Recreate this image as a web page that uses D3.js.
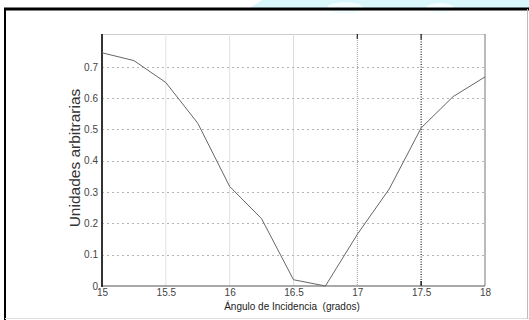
<!DOCTYPE html>
<html><head><meta charset="utf-8">
<script src="https://cdn.jsdelivr.net/npm/d3@7"></script>
<style>body{margin:0;background:#fff}svg{display:block}</style>
</head><body>
<script>
const angles = [15, 15.25, 15.5, 15.75, 16, 16.25, 16.5, 16.75, 17, 17.25, 17.5, 17.75, 18];
const values = [0.745, 0.72, 0.65, 0.52, 0.318, 0.215, 0.02, 0.0, 0.165, 0.31, 0.505, 0.605, 0.668];
const xTicks = [15, 15.5, 16, 16.5, 17, 17.5, 18];
const xTickLabels = ["15", "15.5", "16", "16.5", "17", "17.5", "18"];
const yTicks = [0, 0.1, 0.2, 0.3, 0.4, 0.5, 0.6, 0.7];
const yTickLabels = ["0", "0.1", "0.2", "0.3", "0.4", "0.5", "0.6", "0.7"];
const xTitle = "Ángulo de Incidencia  (grados)";
const yTitle = "Unidades arbitrarias";

const W = 529, H = 320;
const svg = d3.select("body").append("svg").attr("width", W).attr("height", H);

// decorative cyan band above frame
svg.append("path")
  .attr("d", "M250,8 L262,0 L529,0 L529,8 Z")
  .attr("fill", "#d9f7fa");
svg.append("ellipse").attr("cx", 345).attr("cy", 8).attr("rx", 18).attr("ry", 6).attr("fill", "#f3fdfe");
svg.append("ellipse").attr("cx", 440).attr("cy", 8).attr("rx", 14).attr("ry", 5).attr("fill", "#f3fdfe");

// frame
svg.append("line").attr("x1", 4).attr("x2", 529).attr("y1", 9).attr("y2", 9).attr("stroke", "#000").attr("stroke-width", 3);
svg.append("line").attr("x1", 5).attr("x2", 5).attr("y1", 8).attr("y2", 320).attr("stroke", "#000").attr("stroke-width", 2);
svg.append("line").attr("x1", 5).attr("x2", 529).attr("y1", 318.5).attr("y2", 318.5).attr("stroke", "#ddd").attr("stroke-width", 1);
svg.append("line").attr("x1", 527.5).attr("x2", 527.5).attr("y1", 9).attr("y2", 319).attr("stroke", "#bbb").attr("stroke-width", 1);

const x = d3.scaleLinear().domain([15, 18]).range([102, 485]);
const y = d3.scaleLinear().domain([0, 0.805]).range([286, 34]);

// plot box top/right
svg.append("line").attr("x1", x(15)).attr("x2", x(18)).attr("y1", 34.5).attr("y2", 34.5).attr("stroke", "#ccc");
svg.append("line").attr("x1", x(18)).attr("x2", x(18)).attr("y1", 34).attr("y2", 286).attr("stroke", "#777");

// vertical grid
const vStyle = {15.5: ["#e2e2e2", null, 1], 16: ["#e2e2e2", null, 1], 16.5: ["#dcdcdc", null, 1],
                17: ["#999", "1,1", 1], 17.5: ["#333", "1,1.5", 1.3]};
xTicks.filter(t => t > 15 && t < 18).forEach(t => {
  const s = vStyle[t];
  const l = svg.append("line").attr("x1", x(t)).attr("x2", x(t)).attr("y1", 34).attr("y2", 286)
    .attr("stroke", s[0]).attr("stroke-width", s[2]);
  if (s[1]) l.attr("stroke-dasharray", s[1]);
});
// top tick marks
[17, 17.5].forEach(t => {
  svg.append("line").attr("x1", x(t)).attr("x2", x(t)).attr("y1", 34).attr("y2", 39).attr("stroke", "#333").attr("stroke-width", 1.3);
});
svg.append("line").attr("x1", x(17.5)).attr("x2", x(17.5)).attr("y1", 281).attr("y2", 286).attr("stroke", "#222").attr("stroke-width", 1.5);

// horizontal grid
yTicks.filter(t => t > 0).forEach(t => {
  svg.append("line").attr("x1", x(15)).attr("x2", x(18)).attr("y1", Math.round(y(t)) + 0.5).attr("y2", Math.round(y(t)) + 0.5)
    .attr("stroke", "#b4b4b4").attr("stroke-dasharray", "2,3");
});

// axes lines
svg.append("line").attr("x1", x(15)).attr("x2", x(18)).attr("y1", 286).attr("y2", 286).attr("stroke", "#555").attr("stroke-width", 1.2);
svg.append("line").attr("x1", x(15)).attr("x2", x(15)).attr("y1", 34).attr("y2", 287).attr("stroke", "#333").attr("stroke-width", 2);

// y axis labels
const yAxis = d3.axisLeft(y).tickValues(yTicks).tickFormat((d, i) => yTickLabels[i]).tickSize(0).tickPadding(4);
const ga = svg.append("g").attr("transform", "translate(" + x(15) + ",0)").call(yAxis);
ga.select(".domain").remove();
ga.selectAll("text").attr("font-family", "Liberation Sans, Arial, sans-serif").attr("font-size", 10).attr("fill", "#444");

// x axis labels
const xAxis = d3.axisBottom(x).tickValues(xTicks).tickFormat((d, i) => xTickLabels[i]).tickSize(0).tickPadding(3);
const gx = svg.append("g").attr("transform", "translate(0,286)").call(xAxis);
gx.select(".domain").remove();
gx.selectAll("text").attr("font-family", "Liberation Sans, Arial, sans-serif").attr("font-size", 10).attr("fill", "#444");

// curve
const line = d3.line().x((d, i) => x(angles[i])).y(d => y(d));
svg.append("path").datum(values).attr("d", line).attr("fill", "none").attr("stroke", "#666").attr("stroke-width", 1);

// titles
svg.append("text").attr("x", 292).attr("y", 310).attr("text-anchor", "middle")
  .attr("font-family", "Liberation Sans, Arial, sans-serif").attr("font-size", 10).attr("fill", "#222")
  .attr("xml:space", "preserve").style("white-space", "pre").text(xTitle);
svg.append("text").attr("transform", "translate(80,158) rotate(-90)").attr("text-anchor", "middle")
  .attr("font-family", "Liberation Sans, Arial, sans-serif").attr("font-size", 15.5).attr("fill", "#333")
  .text(yTitle);
</script>
</body></html>
